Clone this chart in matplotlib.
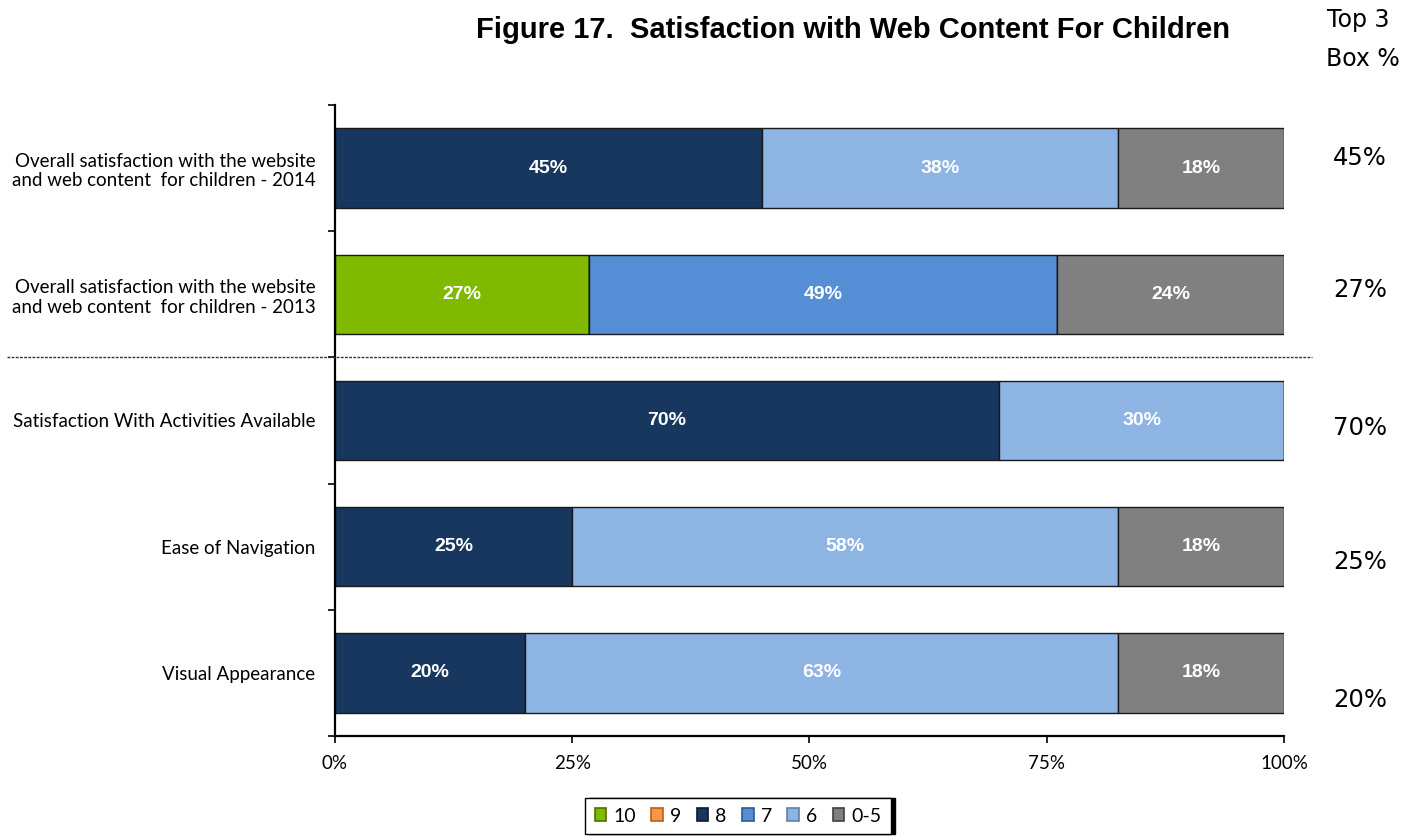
import matplotlib
matplotlib.use('Agg')

import matplotlib.pyplot as plt
from matplotlib.patches import Patch
from matplotlib.lines import Line2D
from matplotlib.transforms import blended_transform_factory

# --- data ---
categories = [
    "Overall satisfaction with the website\nand web content  for children - 2014",
    "Overall satisfaction with the website\nand web content  for children - 2013",
    "Satisfaction With Activities Available",
    "Ease of Navigation",
    "Visual Appearance",
]
series = ['10', '9', '8', '7', '6', '0-5']
v10  = [0.0, 26.8, 0.0, 0.0, 0.0]
v9   = [0.0, 0.0, 0.0, 0.0, 0.0]
v8   = [45.0, 0.0, 70.0, 25.0, 20.0]
v7   = [0.0, 49.3, 0.0, 0.0, 0.0]
v6   = [37.5, 0.0, 30.0, 57.5, 62.5]
v0_5 = [17.5, 23.9, 0.0, 17.5, 17.5]
# data labels as printed in the bars
lab10  = ['', '27%', '', '', '']
lab9   = ['', '', '', '', '']
lab8   = ['45%', '', '70%', '25%', '20%']
lab7   = ['', '49%', '', '', '']
lab6   = ['38%', '', '30%', '58%', '63%']
lab0_5 = ['18%', '24%', '', '18%', '18%']
top3 = ['45%', '27%', '70%', '25%', '20%']

colors = ['#7FBA00', '#F79646', '#17375E', '#558ED5', '#8EB4E3', '#808080']
edges  = ['#4F6F00', '#B8601A', '#0B1A2E', '#2F5A90', '#5F7FA8', '#404040']

values = [v10, v9, v8, v7, v6, v0_5]
labels = [lab10, lab9, lab8, lab7, lab6, lab0_5]

fig = plt.figure(figsize=(14.21, 8.39), dpi=100)
ax = fig.add_axes([0.2357, 0.1228, 0.6679, 0.7521])

ypos = list(range(len(categories)))
left = [0.0] * len(categories)
for vals, labs, c in zip(values, labels, colors):
    ax.barh(ypos, vals, left=left, height=0.63, color=c,
            edgecolor='#1a1a1a', linewidth=1.0)
    for i, (v, l) in enumerate(zip(vals, labs)):
        if v > 0 and l:
            ax.text(left[i] + v / 2, i, l, ha='center', va='center',
                    color='white', fontweight='bold', fontsize=14,
                    family='Liberation Sans')
    left = [a + b for a, b in zip(left, vals)]

ax.set_xlim(0, 100)
ax.set_ylim(len(categories) - 0.5, -0.5)
ax.set_xticks([0, 25, 50, 75, 100])
ax.set_xticklabels(['0%', '25%', '50%', '75%', '100%'], family='Lato', fontsize=13.5)
ax.set_yticks([i - 0.5 for i in range(len(categories) + 1)])
ax.set_yticklabels([])
ax.set_yticks(ypos, minor=True)
ax.set_yticklabels(categories, minor=True, family='Lato', fontsize=13.5,
                   ha='right', multialignment='right')
ax.tick_params(axis='y', which='minor', length=0, pad=14)
ax.tick_params(axis='y', which='major', length=5, width=1.2)
ax.tick_params(axis='x', length=5, width=1.2, pad=9)
ax.spines['top'].set_visible(False)
ax.spines['right'].set_visible(False)
ax.spines['left'].set_linewidth(1.6)
ax.spines['bottom'].set_linewidth(1.6)

# dashed separator between 2013 and current items
tr = blended_transform_factory(fig.transFigure, ax.transData)
fig.add_artist(Line2D([7 / 1421, 1312 / 1421], [1.5, 1.5], transform=tr,
                      color='#333333', linewidth=1.0, linestyle=(0, (2, 1))))

fig.text(853 / 1421, 1 - 30 / 839, 'Figure 17.  Satisfaction with Web Content For Children',
         ha='center', va='center', fontsize=21, fontweight='bold', family='Liberation Sans')
fig.text(1358 / 1421, 1 - 20 / 839, 'Top 3', ha='center', va='center', fontsize=17)
fig.text(1363 / 1421, 1 - 59 / 839, 'Box %', ha='center', va='center', fontsize=17)

top3_y = [158, 290, 428, 562, 700]
for t, yp in zip(top3, top3_y):
    fig.text(1360 / 1421, 1 - yp / 839, t, ha='center', va='center', fontsize=17.5)

handles = [Patch(facecolor=c, edgecolor=ec, linewidth=1.2) for c, ec in zip(colors, edges)]
fig.legend(handles, series, loc='center', bbox_to_anchor=(738 / 1421, 1 - 816 / 839),
           ncol=6, frameon=True, fancybox=False, edgecolor='black',
           prop={'family': 'Lato', 'size': 14},
           handlelength=0.6, handleheight=0.6, handletextpad=0.35,
           columnspacing=0.8, borderpad=0.5, borderaxespad=0,
           shadow={'color': 'black', 'alpha': 1, 'ox': 3, 'oy': 0})

fig.savefig('out.png', dpi=100)
